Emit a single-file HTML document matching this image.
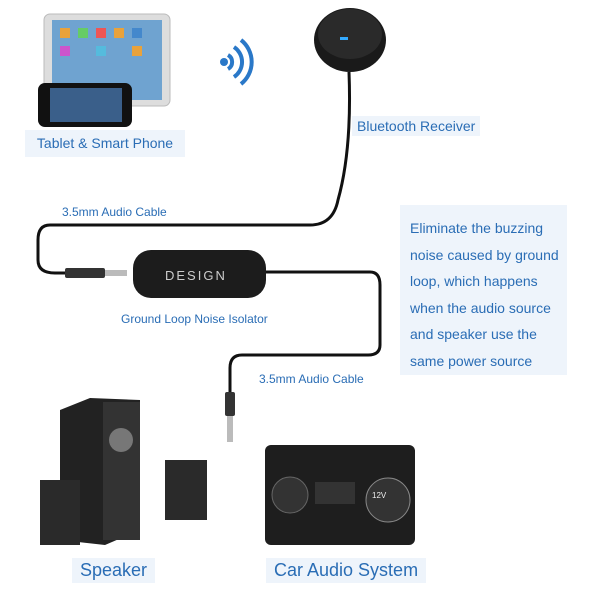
<!DOCTYPE html>
<html><head><style>
body{margin:0;width:600px;height:600px;background:#fff;position:relative;overflow:hidden;font-family:"Liberation Sans",sans-serif}
.l{position:absolute;color:#2a6db5;background:#eef4fb;white-space:nowrap}
</style></head><body>
<svg width="600" height="600" style="position:absolute;left:0;top:0">
<!-- tablet -->
<rect x="44" y="14" width="126" height="92" rx="6" fill="#ddd" stroke="#bbb"/>
<rect x="52" y="20" width="110" height="80" fill="#6fa3d0"/>
<g fill="#e9a23b"><rect x="60" y="28" width="10" height="10"/><rect x="78" y="28" width="10" height="10" fill="#6c6"/><rect x="96" y="28" width="10" height="10" fill="#e55"/><rect x="114" y="28" width="10" height="10"/><rect x="132" y="28" width="10" height="10" fill="#48c"/><rect x="60" y="46" width="10" height="10" fill="#c5c"/><rect x="96" y="46" width="10" height="10" fill="#5bd"/><rect x="132" y="46" width="10" height="10"/></g>
<!-- phone -->
<rect x="38" y="83" width="94" height="44" rx="7" fill="#111"/>
<rect x="50" y="88" width="72" height="34" fill="#3a5f8a"/>
<!-- wifi -->
<g fill="none" stroke="#2a78c8" stroke-width="4"><path d="M228 55 a8 8 0 0 1 0 14"/><path d="M234 47 a18 18 0 0 1 0 30"/><path d="M241 40 a28 28 0 0 1 0 44"/></g>
<circle cx="224" cy="62" r="4" fill="#2a78c8"/>
<!-- bt puck -->
<ellipse cx="350" cy="40" rx="36" ry="32" fill="#1a1a1a"/>
<ellipse cx="350" cy="34" rx="32" ry="25" fill="#2a2a2a"/>
<rect x="340" y="37" width="8" height="3" fill="#3af"/>
<!-- cables -->
<g fill="none" stroke="#111" stroke-width="3">
<path d="M349 72 Q352 150 338 200 Q333 225 310 225 L50 225 Q38 225 38 240 L38 260 Q38 273 55 273 L70 273"/>
<path d="M265 272 L370 272 Q380 272 380 285 L380 345 Q380 355 368 355 L242 355 Q230 355 230 368 L230 395"/>
</g>
<rect x="65" y="268" width="40" height="10" rx="2" fill="#333"/>
<rect x="105" y="270" width="22" height="6" fill="#bbb"/>
<rect x="225" y="392" width="10" height="24" rx="2" fill="#333"/>
<rect x="227" y="416" width="6" height="26" fill="#bbb"/>
<!-- isolator -->
<rect x="133" y="250" width="133" height="48" rx="18" fill="#1c1c1c"/>
<text x="165" y="280" fill="#ccc" font-size="13" letter-spacing="2" font-family="Liberation Sans">DESIGN</text>
<!-- speakers -->
<polygon points="60,410 90,398 140,400 140,530 105,545 60,540" fill="#222"/>
<rect x="103" y="402" width="37" height="138" fill="#333"/>
<circle cx="121" cy="440" r="12" fill="#777"/>
<rect x="40" y="480" width="40" height="65" fill="#2a2a2a"/>
<rect x="165" y="460" width="42" height="60" fill="#2a2a2a"/>
<!-- car -->
<rect x="265" y="445" width="150" height="100" rx="6" fill="#1e1e1e"/>
<circle cx="290" cy="495" r="18" fill="#333" stroke="#666"/>
<rect x="315" y="482" width="40" height="22" fill="#333"/>
<circle cx="388" cy="500" r="22" fill="#333" stroke="#888"/>
<text x="372" y="498" fill="#eee" font-size="8">12V</text>
</svg>
<div class="l" style="left:25px;top:130px;width:160px;height:27px;line-height:27px;text-align:center;font-size:14px">Tablet &amp; Smart Phone</div>
<div class="l" style="left:352px;top:116px;padding:2px 5px;font-size:14px">Bluetooth Receiver</div>
<div class="l" style="left:58px;top:205px;padding:0 4px;font-size:12px;background:#fff">3.5mm Audio Cable</div>
<div class="l" style="left:118px;top:312px;padding:0 3px;font-size:12px;background:#fff">Ground Loop Noise Isolator</div>
<div class="l" style="left:255px;top:372px;padding:0 4px;font-size:12px;background:#fff">3.5mm Audio Cable</div>
<div class="l" style="left:400px;top:205px;width:167px;height:170px;padding:10px 0 0 10px;box-sizing:border-box;font-size:14px;line-height:26.5px;white-space:normal">Eliminate the buzzing noise caused by ground loop, which happens when the audio source and speaker use the same power source</div>
<div class="l" style="left:72px;top:558px;padding:2px 8px;font-size:18px">Speaker</div>
<div class="l" style="left:266px;top:558px;padding:2px 8px;font-size:18px">Car Audio System</div>
</body></html>
